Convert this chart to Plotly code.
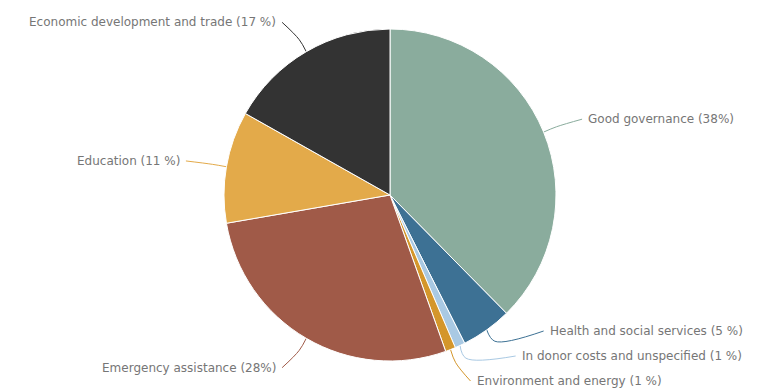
import math
import plotly.graph_objects as go

categories = ["Good governance", "Health and social services", "In donor costs and unspecified",
              "Environment and energy", "Emergency assistance", "Education",
              "Economic development and trade"]
values = [38, 5, 1, 1, 28, 11, 17]
pct_labels = ["(38%)", "(5 %)", "(1 %)", "(1 %)", "(28%)", "(11 %)", "(17 %)"]
colors = ["#8aac9d", "#3d7194", "#a9c9e3", "#d4962b", "#a05a48", "#e3aa4a", "#333333"]

W, H = 764, 391
cx, cy, r = 390, 195, 166
R = 200          # label circle
pad = 11
gap = 25
ymin, ymax = 14, 381

total = sum(values)
angles = []
acc = 0
for v in values:
    angles.append((acc + v / 2) / total * 2 * math.pi)
    acc += v

info = []
for i, th in enumerate(angles):
    side = 1 if math.sin(th) >= 0 else -1
    info.append({"i": i, "th": th, "side": side, "y": cy - R * math.cos(th)})

for side in (1, -1):
    grp = sorted([d for d in info if d["side"] == side], key=lambda d: d["y"])
    for k in range(1, len(grp)):
        grp[k]["y"] = max(grp[k]["y"], grp[k - 1]["y"] + gap)
    if grp:
        grp[-1]["y"] = min(grp[-1]["y"], ymax)
    for k in range(len(grp) - 2, -1, -1):
        grp[k]["y"] = min(grp[k]["y"], grp[k + 1]["y"] - gap)
    grp[0]["y"] = max(grp[0]["y"], ymin)

fig = go.Figure()
fig.add_trace(go.Pie(
    labels=categories, values=values, sort=False, direction="clockwise", rotation=0,
    marker=dict(colors=colors, line=dict(color="white", width=1)),
    textinfo="none", hoverinfo="label+percent", showlegend=False,
    domain=dict(x=[(cx - r) / W, (cx + r) / W], y=[1 - (cy + r) / H, 1 - (cy - r) / H]),
))

annotations = []
for d in info:
    i, th, side = d["i"], d["th"], d["side"]
    ly = d["y"]
    dy = min(abs(ly - cy), R)
    lx = cx + side * (math.sqrt(R * R - dy * dy) + pad)
    ex, ey = cx + r * math.sin(th), cy - r * math.cos(th)
    mx, my = cx + (r + 14) * math.sin(th), cy - (r + 14) * math.cos(th)
    ax = lx - side * 4
    fig.add_trace(go.Scatter(
        x=[ex, mx, ax], y=[ey, my, ly], mode="lines",
        line=dict(color=colors[i], width=1, shape="spline", smoothing=1.0),
        hoverinfo="skip", showlegend=False, xaxis="x", yaxis="y"))
    annotations.append(dict(
        x=lx, y=ly, xref="x", yref="y", showarrow=False,
        text=f"{categories[i]} {pct_labels[i]}",
        xanchor="left" if side > 0 else "right", yanchor="middle",
        font=dict(family="DejaVu Sans, sans-serif", size=12, color="#767676")))

fig.update_layout(
    width=W, height=H, margin=dict(l=0, r=0, t=0, b=0),
    paper_bgcolor="white", plot_bgcolor="rgba(0,0,0,0)",
    xaxis=dict(range=[0, W], visible=False, domain=[0, 1], fixedrange=True),
    yaxis=dict(range=[H, 0], visible=False, domain=[0, 1], fixedrange=True),
    annotations=annotations,
)

fig.write_html("out.html")
